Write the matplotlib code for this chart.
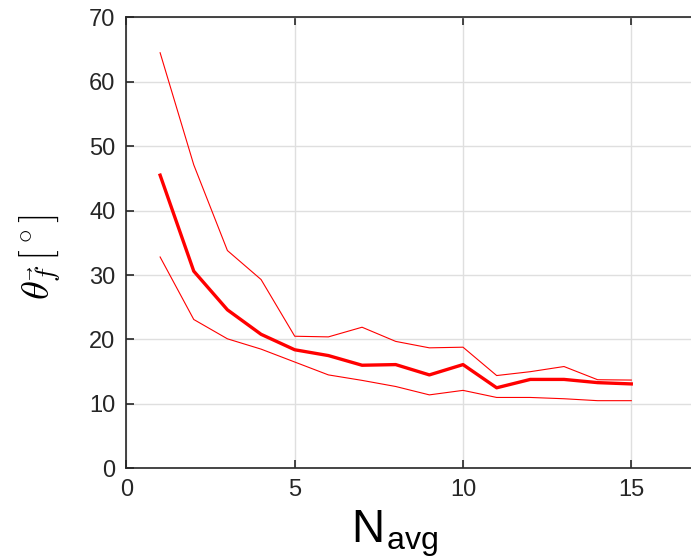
import numpy as np
import matplotlib
matplotlib.use('Agg')
import matplotlib.pyplot as plt

plt.rcParams['font.family'] = ['Liberation Sans', 'DejaVu Sans']
plt.rcParams['mathtext.fontset'] = 'cm'

n_avg = [1, 2, 3, 4, 5, 6, 7, 8, 9, 10, 11, 12, 13, 14, 15]
theta_mean = [45.5, 30.6, 24.6, 20.8, 18.4, 17.5, 16.0, 16.1, 14.5, 16.1, 12.5, 13.8, 13.8, 13.3, 13.1]
theta_upper = [64.5, 47.1, 33.8, 29.3, 20.5, 20.4, 21.9, 19.7, 18.7, 18.8, 14.4, 15.0, 15.8, 13.75, 13.7]
theta_lower = [32.8, 23.1, 20.1, 18.5, 16.5, 14.5, 13.65, 12.7, 11.4, 12.1, 11.0, 11.0, 10.8, 10.5, 10.5]

fig = plt.figure(figsize=(6.91, 5.6), dpi=100)
# axes runs a bit past the right edge of the figure, as in the original crop
ax = fig.add_axes([0.183, 0.1637, 0.828, 0.8054])

ax.plot(n_avg, theta_upper, color='red', lw=0.8)
ax.plot(n_avg, theta_lower, color='red', lw=0.8)
ax.plot(n_avg, theta_mean, color='red', lw=2.4)

ax.set_xlim(0, 17)
ax.set_ylim(0, 70)
ax.set_xticks([0, 5, 10, 15])
ax.set_yticks(np.arange(0, 71, 10))
ax.grid(True, color='#dfdfdf', lw=1)
ax.set_axisbelow(True)

for s in ax.spines.values():
    s.set_color('#262626')
    s.set_linewidth(1.2)
ax.tick_params(direction='in', length=6, width=1.2, colors='#262626',
               labelsize=17, top=True, right=True, pad=8)

ax.set_xlabel(r'N$_{\mathregular{avg}}$', fontsize=33, color='black', labelpad=5)
ax.xaxis.label.set_x(0.469)
ax.set_ylabel(r'$\theta_{\vec{f}}\,[^\circ]$', fontsize=28, color='black', labelpad=19)
ax.yaxis.label.set_y(0.469)

fig.savefig('out.png', dpi=100)
